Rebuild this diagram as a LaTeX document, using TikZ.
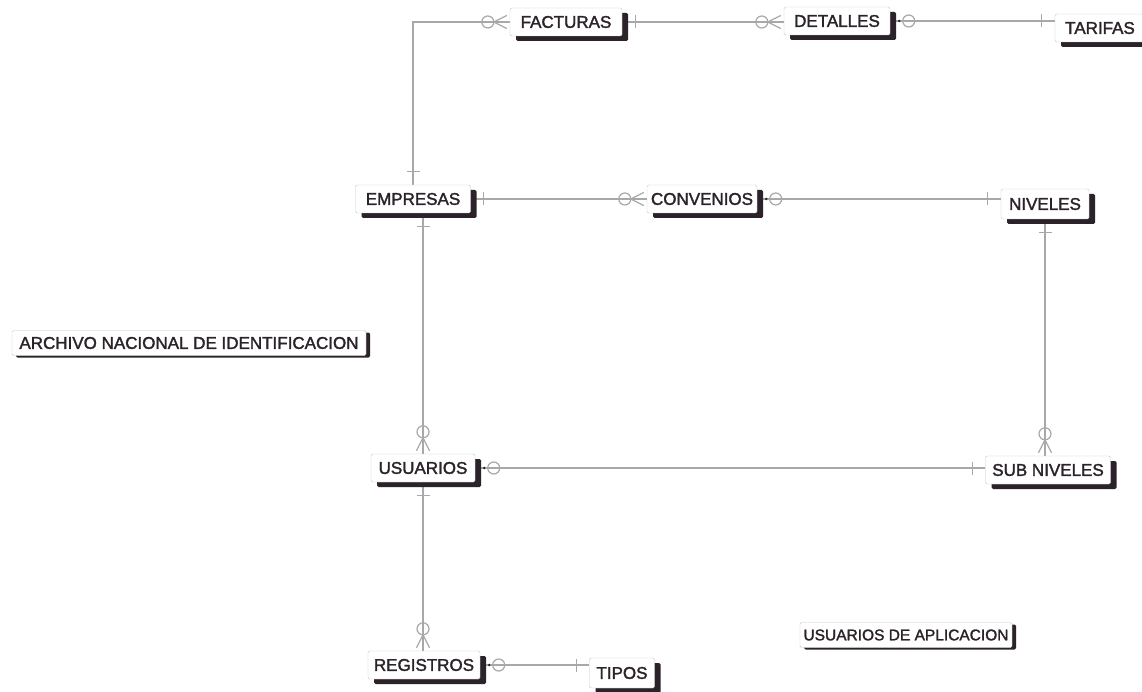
\documentclass[tikz,border=0pt]{standalone}
\usepackage{fontspec}
\setmainfont{Liberation Sans}
\newfontfamily\boxfont{Liberation Sans}[FakeBold=1.8]
\usepackage{xcolor}
\usetikzlibrary{calc, shadows, backgrounds}

\definecolor{ink}{HTML}{2B2329}
\definecolor{relgray}{HTML}{A8A8A8}
\definecolor{boxgray}{HTML}{C8C8C8}

\tikzset{
	box/.style={draw=boxgray, fill=white, text=ink, rounded corners=1.5pt,
		minimum height=28pt, inner sep=0pt, font=\boxfont\fontsize{17}{19}\selectfont},
	entity/.style={box, drop shadow={shadow xshift=6pt, shadow yshift=-5pt, fill=ink, opacity=1}},
	note/.style={box, minimum height=25pt, drop shadow={shadow xshift=4pt, shadow yshift=-2pt, fill=ink, opacity=1}},
	rel/.style={draw=relgray, line width=1.2pt},
	% crow's foot ends, the box sits at the origin, the line runs off to -x
	pics/one/.style={code={\draw[rel] (-13,-6.5) -- (-13,6.5);}},
	pics/zeroone/.style={code={
		\fill[ink] (-9,0) circle (1.4);
		\draw[rel] (-18.5,0) circle (6);}},
	pics/zeromany/.style={code={
		\draw[rel] (-3,6.5) -- (-16,0) -- (-3,-6.5);
		\draw[rel] (-22,0) circle (6);}},
}

\begin{document}
\begin{tikzpicture}[x=1pt, y=1pt]
	\useasboundingbox (0,0) rectangle (1142,-692);

	% tables
	\node[entity, minimum width=112pt] (facturas) at (566,-22) {FACTURAS};
	\node[entity, minimum width=106pt] (detalles) at (837,-21) {DETALLES};
	\node[entity, minimum width=90pt] (tarifas) at (1100,-28) {TARIFAS};
	\node[entity, minimum width=115pt] (empresas) at (413,-199) {EMPRESAS};
	\node[entity, minimum width=110pt] (convenios) at (702,-199) {CONVENIOS};
	\node[entity, minimum width=88pt, minimum height=30pt] (niveles) at (1045,-204) {NIVELES};
	\node[entity, minimum width=104pt] (usuarios) at (423,-468) {USUARIOS};
	\node[entity, minimum width=125pt] (subniveles) at (1048,-470) {SUB NIVELES};
	\node[entity, minimum width=112pt] (registros) at (424,-665) {REGISTROS};
	\node[entity, minimum width=65pt, minimum height=30pt] (tipos) at (622,-673) {TIPOS};

	% subject areas
	\node[note, minimum width=354pt] (archivo) at (189,-343) {ARCHIVO NACIONAL DE IDENTIFICACION};
	\node[note, minimum width=212pt, font=\boxfont\fontsize{15.5}{18}\selectfont] (aplicacion) at (906,-635) {USUARIOS DE APLICACION};

	% relationships
	\begin{scope}[on background layer]
		\draw[rel] (empresas.north) |- (facturas.west);
		\draw[rel] (facturas.east) -- (detalles.west |- facturas.east);
		\draw[rel] (detalles.east) -- (tarifas.west |- detalles.east);
		\draw[rel] (empresas.east) -- (convenios.west);
		\draw[rel] (convenios.east) -- (niveles.west |- convenios.east);
		\draw[rel] (usuarios.north |- empresas.south) -- (usuarios.north);
		\draw[rel] (niveles.south) -- (niveles.south |- subniveles.north);
		\draw[rel] (usuarios.east) -- (subniveles.west |- usuarios.east);
		\draw[rel] (usuarios.south) -- (usuarios.south |- registros.north);
		\draw[rel] (registros.east) -- (tipos.west |- registros.east);
	\end{scope}

	% line ends
	\path (empresas.north) pic[rotate=-90] {one};
	\path (facturas.west) pic {zeromany};
	\path (facturas.east) pic[rotate=180] {one};
	\path (detalles.west |- facturas.east) pic {zeromany};
	\path (detalles.east) pic[rotate=180] {zeroone};
	\path (tarifas.west |- detalles.east) pic {one};
	\path (empresas.east) pic[rotate=180] {one};
	\path (convenios.west) pic {zeromany};
	\path (convenios.east) pic[rotate=180] {zeroone};
	\path (niveles.west |- convenios.east) pic {one};
	\path (usuarios.north |- empresas.south) pic[rotate=90] {one};
	\path (usuarios.north) pic[rotate=-90] {zeromany};
	\path (niveles.south) pic[rotate=90] {one};
	\path (niveles.south |- subniveles.north) pic[rotate=-90] {zeromany};
	\path (usuarios.east) pic[rotate=180] {zeroone};
	\path (subniveles.west |- usuarios.east) pic {one};
	\path (usuarios.south) pic[rotate=90] {one};
	\path (usuarios.south |- registros.north) pic[rotate=-90] {zeromany};
	\path (registros.east) pic[rotate=180] {zeroone};
	\path (tipos.west |- registros.east) pic {one};
\end{tikzpicture}
\end{document}
